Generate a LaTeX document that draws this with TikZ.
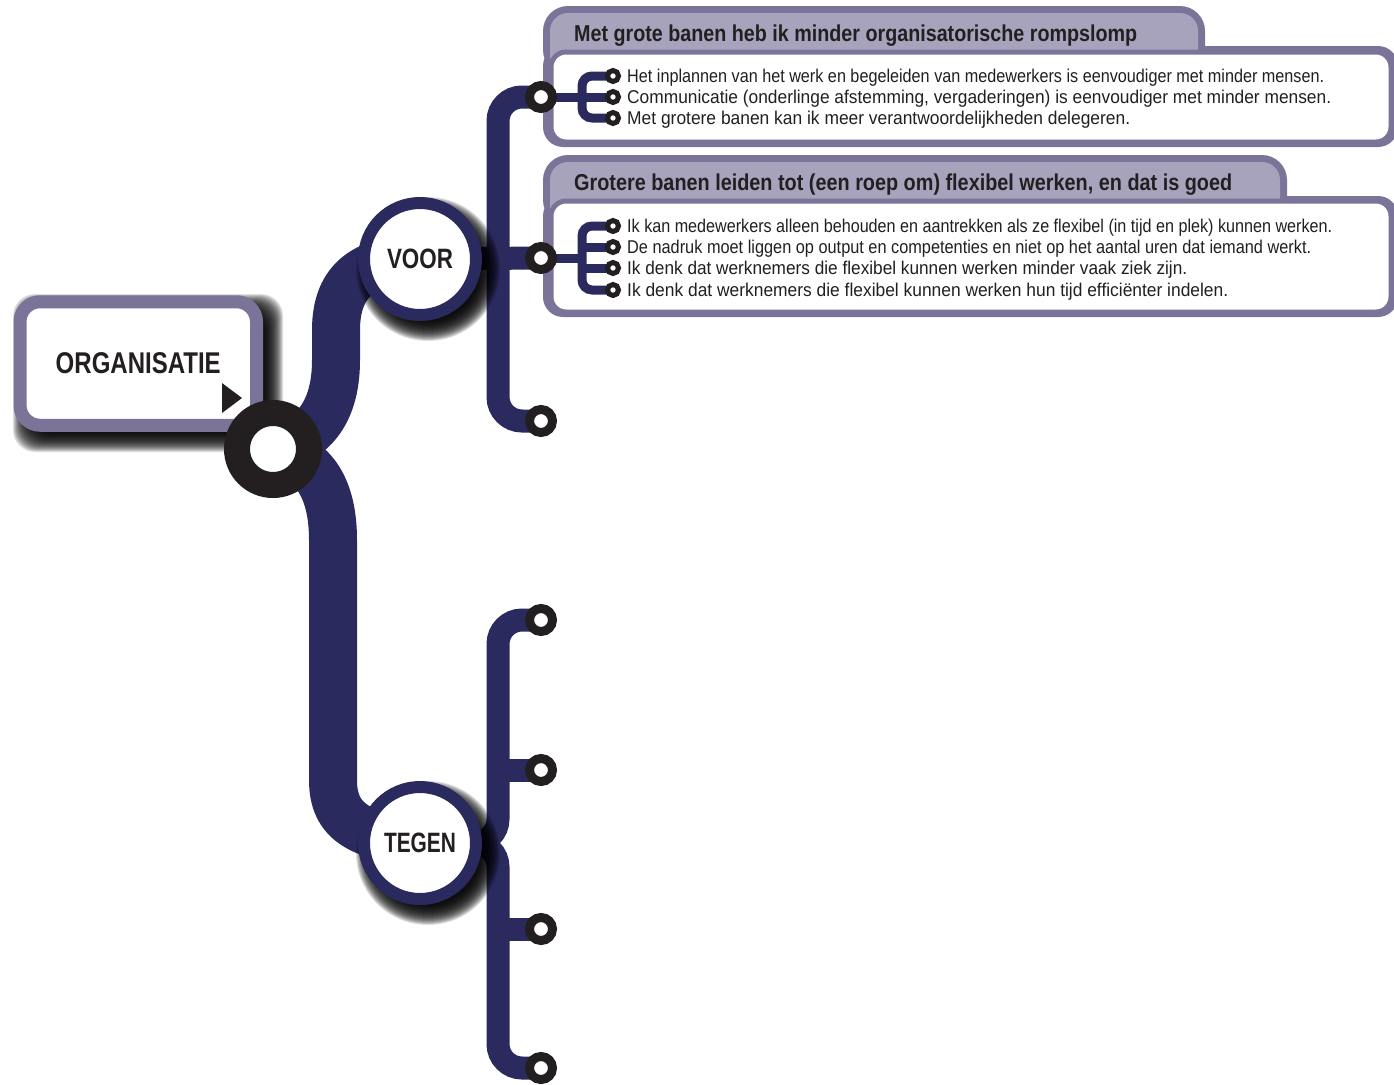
\documentclass[tikz,border=0pt]{standalone}
\usepackage{graphicx}
\usepackage{fontspec}
\setmainfont{Liberation Sans}
\definecolor{navy}{HTML}{2B2A5F}
\definecolor{pborder}{HTML}{7B7498}
\definecolor{plight}{HTML}{A8A3BC}
\definecolor{ink}{HTML}{231F20}
\newcommand{\fitto}[2]{\resizebox{#1pt}{\height}{#2}}
\pgfdeclarelayer{panels}\pgfdeclarelayer{links}\pgfdeclarelayer{shade}
\pgfsetlayers{panels,links,shade,main}
\begin{document}
\begin{tikzpicture}[x=1pt,y=-1pt,
  trunk/.style={draw=navy,line width=48pt},
  bar/.style={draw=navy,line width=23pt,rounded corners=24pt},
  stub/.style={draw=navy,line width=23pt},
  fork/.style={draw=navy,line width=9pt,rounded corners=10pt},
  bigring/.style={circle,draw=ink,fill=white,line width=26pt,minimum size=72pt,inner sep=0pt},
  ring/.style={circle,draw=ink,fill=white,line width=9pt,minimum size=23pt,inner sep=0pt},
  dot/.style={circle,draw=ink,fill=white,line width=5pt,minimum size=11pt,inner sep=0pt},
  side/.style={circle,draw=navy,fill=white,line width=12pt,minimum size=112pt,inner sep=0pt,text=ink,font=\bfseries\fontsize{28}{28}\selectfont},
  orgbox/.style={draw=pborder,fill=white,line width=13pt,rounded corners=20pt,minimum width=236.5pt,minimum height=123.5pt,inner sep=0pt,text=ink,font=\bfseries\fontsize{30}{30}\selectfont},
  head/.style={anchor=base west,inner sep=0pt,text=ink,font=\bfseries\fontsize{23}{23}\selectfont},
  item/.style={anchor=base west,inner sep=0pt,text=ink,font=\fontsize{18.5}{18.5}\selectfont},
  shadowfill/.style={fill=black,opacity=0.13},
]
\path[use as bounding box] (0,0) rectangle (1394,1084);

% key positions
\coordinate (pHub) at (273,449);
\coordinate (pVoor) at (420,259);
\coordinate (pTegen) at (420,843);
\coordinate (pV1) at (541,97);
\coordinate (pV2) at (541,258);
\coordinate (pV3) at (541,421);
\coordinate (pT1) at (541,620);
\coordinate (pT2) at (541,770);
\coordinate (pT3) at (541,929);
\coordinate (pT4) at (541,1068);
\coordinate (pA1) at (613,76);
\coordinate (pA2) at (613,97);
\coordinate (pA3) at (613,118);
\coordinate (pB1) at (613,226);
\coordinate (pB2) at (613,247);
\coordinate (pB3) at (613,268);
\coordinate (pB4) at (613,290);

% panels
\begin{pgfonlayer}{panels}
  \fill[pborder,rounded corners=25pt] (543,75) -- (543,6) -- (1205,6) -- (1205,75) -- cycle;
  \fill[pborder,rounded corners=20pt] (543,46) rectangle (1398,147);
  \fill[plight,rounded corners=18pt] (550,13) rectangle (1198,75);
  \draw[pborder,fill=white,line width=5pt,rounded corners=15pt] (551,52) rectangle (1391,142);

  \fill[pborder,rounded corners=25pt] (543,225) -- (543,155) -- (1287,155) -- (1287,225) -- cycle;
  \fill[pborder,rounded corners=20pt] (543,196) rectangle (1398,317);
  \fill[plight,rounded corners=18pt] (550,162) rectangle (1280,225);
  \draw[pborder,fill=white,line width=5pt,rounded corners=15pt] (551,201) rectangle (1391,312);
\end{pgfonlayer}

% connectors
\begin{pgfonlayer}{links}
  \draw[trunk] (pHub) .. controls (315,440) and (336,410) .. (336,360) -- (336,330)
     .. controls (336,280) and (365,259) .. (pVoor);
  \draw[trunk] (pHub) .. controls (315,458) and (333,490) .. (333,540) -- (333,780)
     .. controls (333,822) and (360,836) .. (pTegen);
  \draw[bar] (pV1) -- (498,97) -- (498,421) -- (pV3);
  \draw[stub] (pVoor) -- (pV2);
  \draw[bar] (pT1) -- (498,620) -- (498,843) -- (pTegen);
  \draw[bar] (pTegen) -- (498,843) -- (498,1068) -- (pT4);
  \draw[stub] (pT2) -- ++(-43,0);
  \draw[stub] (pT3) -- ++(-43,0);
  \draw[fork] (pA1) -- (582,76) -- (582,118) -- (pA3);
  \draw[fork] (pV1) -- (pA2);
  \draw[fork] (pB1) -- (582,226) -- (582,290) -- (pB4);
  \draw[fork] (pV2) -- (582,258);
  \draw[fork] (582,247) -- (pB2);
  \draw[fork] (582,268) -- (pB3);
\end{pgfonlayer}

% shadows
\begin{pgfonlayer}{shade}
  \foreach \s in {0,1,...,20} {
    \fill[shadowfill,rounded corners=22pt] ({33-\s},{314-\s}) rectangle ({263+\s},{432+\s});
    \fill[shadowfill] (428,269) circle ({52+\s});
    \fill[shadowfill] (428,853) circle ({52+\s});
  }
\end{pgfonlayer}

% nodes
\node[orgbox] (org) at (138.25,363.5) {\fitto{165}{ORGANISATIE}};
\fill[ink] (222,383) -- (242,398) -- (222,413) -- cycle;
\node[side] (voor) at (pVoor) {\fitto{66}{VOOR}};
\node[side] (tegen) at (pTegen) {\fitto{72}{TEGEN}};
\node[bigring] (hub) at (pHub) {};
\foreach \n in {V1,V2,V3,T1,T2,T3,T4} { \node[ring] (\n) at (p\n) {}; }
\foreach \n in {A1,A2,A3,B1,B2,B3,B4} { \node[dot] (\n) at (p\n) {}; }

% texts
\node[head] (h1) at (574,41) {\fitto{563}{Met grote banen heb ik minder organisatorische rompslomp}};
\node[head] (h2) at (574,190) {\fitto{658}{Grotere banen leiden tot (een roep om) flexibel werken, en dat is goed}};
\node[item] (ta1) at (627,82) {\fitto{697}{Het inplannen van het werk en begeleiden van medewerkers is eenvoudiger met minder mensen.}};
\node[item] (ta2) at (627,103) {\fitto{704}{Communicatie (onderlinge afstemming, vergaderingen) is eenvoudiger met minder mensen.}};
\node[item] (ta3) at (627,124) {\fitto{503}{Met grotere banen kan ik meer verantwoordelijkheden delegeren.}};
\node[item] (tb1) at (627,232) {\fitto{705}{Ik kan medewerkers alleen behouden en aantrekken als ze flexibel (in tijd en plek) kunnen werken.}};
\node[item] (tb2) at (627,253) {\fitto{684}{De nadruk moet liggen op output en competenties en niet op het aantal uren dat iemand werkt.}};
\node[item] (tb3) at (627,274) {\fitto{560}{Ik denk dat werknemers die flexibel kunnen werken minder vaak ziek zijn.}};
\node[item] (tb4) at (627,296) {\fitto{601}{Ik denk dat werknemers die flexibel kunnen werken hun tijd efficiënter indelen.}};
\end{tikzpicture}
\end{document}
